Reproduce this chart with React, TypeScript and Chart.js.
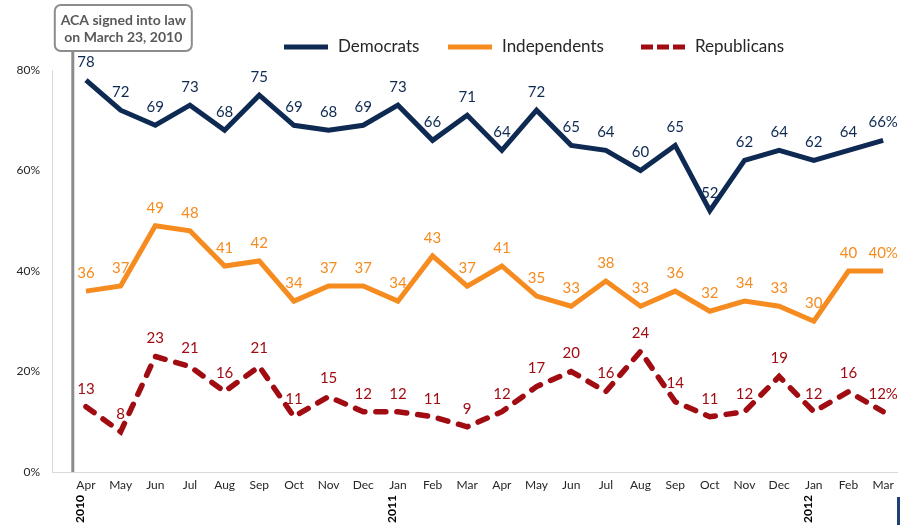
import React, { useEffect, useRef } from "react";
import { Chart, registerables } from "chart.js";

Chart.register(...registerables);

const months = ["Apr","May","Jun","Jul","Aug","Sep","Oct","Nov","Dec","Jan","Feb","Mar","Apr","May","Jun","Jul","Aug","Sep","Oct","Nov","Dec","Jan","Feb","Mar"];
const yearLabels = [ { index: 0, label: "2010" }, { index: 9, label: "2011" }, { index: 21, label: "2012" } ];
const democrats = [78,72,69,73,68,75,69,68,69,73,66,71,64,72,65,64,60,65,52,62,64,62,64,66];
const independents = [36,37,49,48,41,42,34,37,37,34,43,37,41,35,33,38,33,36,32,34,33,30,40,40];
const republicans = [13,8,23,21,16,21,11,15,12,12,11,9,12,17,20,16,24,14,11,12,19,12,16,12];
const yTicks = [0, 20, 40, 60, 80];
const acaPosition = -0.38;
const acaText = ["ACA signed into law", "on March 23, 2010"];

const NAVY = "#0E2A52";
const ORANGE = "#F68B1F";
const RED = "#A00C12";
const FONT = "Lato, 'Open Sans', sans-serif";

const seriesNames = ["Democrats", "Independents", "Republicans"];
const seriesColors = [NAVY, ORANGE, RED];

const overlayPlugin = {
  id: "overlay",
  afterDatasetsDraw(chart: any) {
    const ctx = chart.ctx;
    ctx.save();
    chart.data.datasets.forEach((ds: any, i: number) => {
      const meta = chart.getDatasetMeta(i);
      ctx.fillStyle = ds.borderColor;
      ctx.font = `15px ${FONT}`;
      ctx.textAlign = "center";
      ctx.textBaseline = "middle";
      meta.data.forEach((pt: any, j: number) => {
        const v = ds.data[j].y;
        const txt = j === ds.data.length - 1 ? `${v}%` : `${v}`;
        ctx.fillText(txt, pt.x, pt.y - 18);
      });
    });
    ctx.restore();
  },
  afterDraw(chart: any) {
    const ctx = chart.ctx;
    const xs = chart.scales.x;
    const area = chart.chartArea;
    ctx.save();
    const lx = xs.getPixelForValue(acaPosition);
    const boxL = lx - 18, boxT = 5, boxW = 137, boxH = 46;
    ctx.strokeStyle = "#8C8C8C";
    ctx.lineWidth = 3;
    ctx.beginPath();
    ctx.moveTo(lx, boxT + boxH);
    ctx.lineTo(lx, area.bottom);
    ctx.stroke();
    ctx.lineWidth = 2;
    ctx.fillStyle = "#ffffff";
    ctx.beginPath();
    (ctx as any).roundRect(boxL, boxT, boxW, boxH, 6);
    ctx.fill();
    ctx.stroke();
    ctx.fillStyle = "#595959";
    ctx.font = `bold 14px ${FONT}`;
    ctx.textAlign = "center";
    ctx.textBaseline = "middle";
    ctx.fillText(acaText[0], boxL + boxW / 2, 20);
    ctx.fillText(acaText[1], boxL + boxW / 2, 37);

    ctx.fillStyle = "#000000";
    ctx.font = `bold 12px ${FONT}`;
    yearLabels.forEach((y) => {
      const x = xs.getPixelForValue(y.index) - 6;
      ctx.save();
      ctx.translate(x, 509);
      ctx.rotate(-Math.PI / 2);
      ctx.textAlign = "center";
      ctx.textBaseline = "middle";
      ctx.fillText(y.label, 0, 0);
      ctx.restore();
    });

    const legendX = [284, 448, 641];
    const legendY = 47;
    ctx.font = `17px ${FONT}`;
    ctx.textAlign = "left";
    ctx.textBaseline = "middle";
    seriesNames.forEach((name, i) => {
      ctx.strokeStyle = seriesColors[i];
      ctx.lineWidth = 5;
      ctx.setLineDash(i === 2 ? [12, 4] : []);
      ctx.beginPath();
      ctx.moveTo(legendX[i], legendY);
      ctx.lineTo(legendX[i] + 44, legendY);
      ctx.stroke();
      ctx.setLineDash([]);
      ctx.fillStyle = "#262626";
      ctx.fillText(name, legendX[i] + 54, legendY);
    });

    ctx.fillStyle = "#1F3F77";
    ctx.fillRect(897, 497, 3, 28);
    ctx.restore();
  },
};

export default function App() {
  const ref = useRef<HTMLCanvasElement>(null);
  useEffect(() => {
    if (!ref.current) return;
    const mk = (arr: number[]) => arr.map((v, i) => ({ x: i, y: v }));
    const chart = new Chart(ref.current, {
      type: "line",
      data: {
        datasets: [
          { label: seriesNames[0], data: mk(democrats), borderColor: NAVY, backgroundColor: NAVY, borderWidth: 5, pointRadius: 0, tension: 0, clip: false as any },
          { label: seriesNames[1], data: mk(independents), borderColor: ORANGE, backgroundColor: ORANGE, borderWidth: 5, pointRadius: 0, tension: 0, clip: false as any },
          { label: seriesNames[2], data: mk(republicans), borderColor: RED, backgroundColor: RED, borderWidth: 5.5, borderDash: [10, 11], borderCapStyle: "round", pointRadius: 0, tension: 0, clip: false as any },
        ],
      },
      options: {
        animation: false,
        responsive: true,
        maintainAspectRatio: false,
        layout: { padding: { top: 70, right: 3, left: 0, bottom: 0 } },
        plugins: { legend: { display: false }, tooltip: { enabled: false }, title: { display: false } },
        scales: {
          x: {
            type: "linear",
            min: -0.98,
            max: 23.4,
            afterBuildTicks: (scale: any) => {
              scale.ticks = months.map((_, i) => ({ value: i }));
            },
            afterFit: (scale: any) => { scale.height = 53; },
            grid: { display: false, drawTicks: false },
            border: { display: true, color: "#D9D9D9", width: 1 },
            ticks: {
              autoSkip: false,
              maxRotation: 0,
              minRotation: 0,
              padding: 6,
              color: "#262626",
              font: { family: FONT, size: 12 },
              callback: (v: any) => months[v] ?? "",
            },
          },
          y: {
            min: 0,
            max: 80,
            afterBuildTicks: (scale: any) => {
              scale.ticks = yTicks.map((v) => ({ value: v }));
            },
            afterFit: (scale: any) => { scale.width = 52; },
            grid: { display: false, drawTicks: false },
            border: { display: true, color: "#D9D9D9", width: 1 },
            ticks: {
              padding: 12,
              color: "#262626",
              font: { family: FONT, size: 12 },
              callback: (v: any) => `${v}%`,
            },
          },
        },
      },
      plugins: [overlayPlugin],
    } as any);
    return () => chart.destroy();
  }, []);
  return (
    <div style={{ position: "fixed", left: 0, top: 0, width: 900, height: 525, background: "#fff" }}>
      <canvas ref={ref} />
    </div>
  );
}
